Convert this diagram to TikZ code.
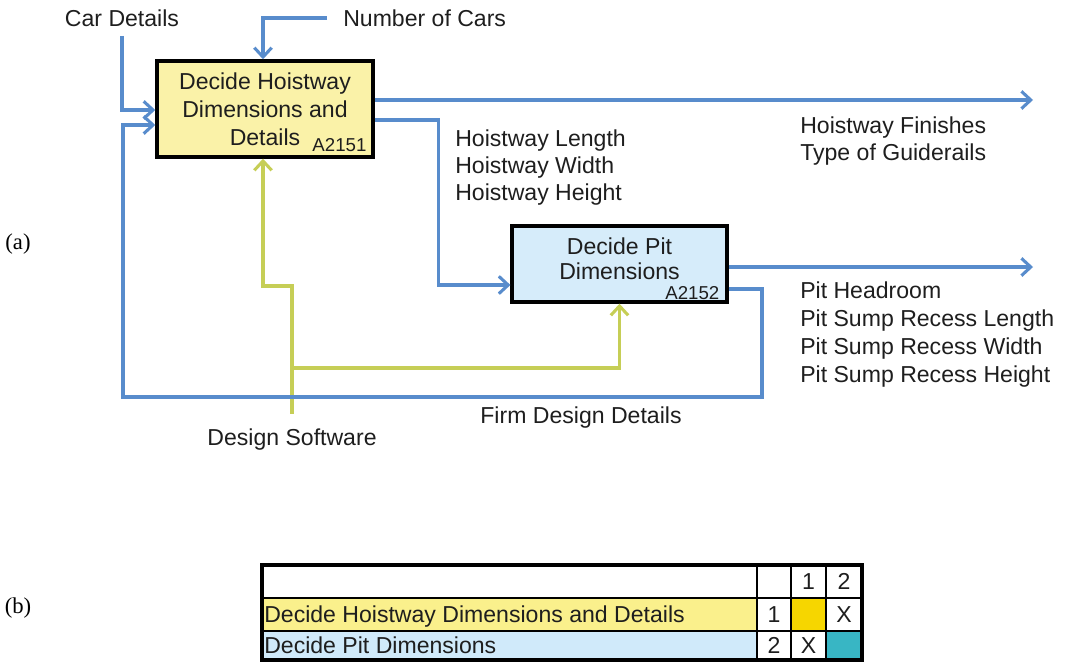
\documentclass[tikz,border=0pt]{standalone}
\usepackage{fontspec}
\setmainfont{Liberation Sans}
\newfontfamily\serifabc{Liberation Serif}
\usetikzlibrary{arrows.meta,calc}
\definecolor{flowblue}{RGB}{88,140,204}
\definecolor{mechgreen}{RGB}{198,206,86}
\definecolor{boxyellow}{RGB}{250,242,168}
\definecolor{boxblue}{RGB}{214,236,250}
\definecolor{rowyellow}{RGB}{250,240,140}
\definecolor{rowblue}{RGB}{208,234,250}
\definecolor{cellgold}{RGB}{246,214,0}
\definecolor{cellteal}{RGB}{56,182,196}
\definecolor{inkgray}{RGB}{30,30,30}
\begin{document}
\begin{tikzpicture}[x=0.75pt,y=-0.75pt,
  txt/.style={font=\fontsize{17.3}{20}\selectfont, text=inkgray, inner sep=0pt, text height=12.4pt, text depth=0pt},
  small/.style={font=\fontsize{14}{14}\selectfont, text=inkgray, inner sep=0pt},
  actbox/.style={draw=black, line width=2.6pt, minimum width=162pt, minimum height=72pt,
    align=center, font=\fontsize{17.3}{20}\selectfont, text=inkgray, inner sep=0pt},
  boxtext/.style={align=center, font=\fontsize{17.3}{18.8}\selectfont, text=inkgray, inner sep=0pt},
  flow/.style={draw=flowblue, line width=2.3pt, -{Straight Barb[length=7pt,width=13pt]}},
  mech/.style={draw=mechgreen, line width=2.3pt, -{Straight Barb[length=7pt,width=13pt]}},
  tabtxt/.style={font=\fontsize{17.3}{20}\selectfont, text=inkgray, inner sep=0pt, text height=12.4pt, text depth=0pt},
  abc/.style={font=\serifabc\fontsize{17}{17}\selectfont, inner sep=0pt}
]
\useasboundingbox (0,0) rectangle (1069,663);

% ---------- part (a) ----------
\node[abc] (la) at (18,244) {(a)};

\node[actbox, fill=boxyellow] (b1) at (265,109) {Decide Hoistway\\[1pt]Dimensions and\\[1pt]Details};
\node[small, anchor=south east] (a1) at ($(b1.south east)+(-8,-7)$) {A2151};

\node[actbox, fill=boxblue, minimum width=161pt, minimum height=57pt] (b2) at (619.5,264) {};
\node[boxtext] (t2) at (619.5,259) {Decide Pit\\Dimensions};
\node[small, anchor=south east] (a2) at ($(b2.south east)+(-9,-4)$) {A2152};

\node[txt] (cd) at (122,18) {Car Details};
\node[txt, anchor=west] (nc) at (343,18) {Number of Cars};

\node[txt, anchor=west] (hl) at (455,138) {Hoistway Length};
\node[txt, anchor=west] (hw) at (455,165) {Hoistway Width};
\node[txt, anchor=west] (hh) at (455,192) {Hoistway Height};

\node[txt, anchor=west] (hf) at (800,125) {Hoistway Finishes};
\node[txt, anchor=west] (tg) at (800,152) {Type of Guiderails};

\node[txt, anchor=west] (ph) at (800,290) {Pit Headroom};
\node[txt, anchor=west] (pl) at (800,318) {Pit Sump Recess Length};
\node[txt, anchor=west] (pw) at (800,346) {Pit Sump Recess Width};
\node[txt, anchor=west] (pg) at (800,374) {Pit Sump Recess Height};

\node[txt] (fd) at (581,415) {Firm Design Details};
\node[txt] (ds) at (292,437) {Design Software};

\coordinate (o1) at (1033,100);
\coordinate (o2) at (1033,267);
\coordinate (g1) at (292,286);
\coordinate (gsplit) at (292,368);
\coordinate (fbR) at (762,397);
\coordinate (fbL) at (123,397);

% mechanisms (green)
\draw[mech, shorten <=11pt] (ds.north) -- (g1) -| ($(b1.south)+(-2,0)$);
\draw[mech] (gsplit) -| (b2.south);

% inputs
\draw[flow, shorten <=7pt] (cd.south) |- ($(b1.west)+(0,1)$);
\draw[flow, shorten <=12pt] (nc.west) -| ($(b1.north)+(-2,0)$);

% outputs
\draw[flow] (b1.east |- o1) -- (o1);
\draw[flow] ($(b1.east)+(0,11)$) -- ++(64,0) |- ($(b2.west)+(0,21)$);
\draw[flow] (b2.east |- o2) -- (o2);

% feedback
\draw[flow] ($(b2.east)+(0,25)$) -| (fbR) -- (fbL) |- ($(b1.west)+(0,16)$);

% ---------- part (b) ----------
\node[abc] (lb) at (18,608) {(b)};

\fill[rowyellow] (262,598) rectangle (757,631);
\fill[rowblue] (262,631) rectangle (757,660);
\fill[cellgold] (791,598) rectangle (826,631);
\fill[cellteal] (826,631) rectangle (862,660);
\draw[line width=1.7pt] (262,598) -- (862,598) (262,631) -- (862,631)
  (757,565) -- (757,660) (791,565) -- (791,660) (826,565) -- (826,660);
\draw[line width=2.6pt] (262,565) rectangle (862,660);

\node[tabtxt] (h1) at (808.5,581.5) {1};
\node[tabtxt] (h2) at (844,581.5) {2};
\node[tabtxt, anchor=west] (r1) at (264,614.5) {Decide Hoistway Dimensions and Details};
\node[tabtxt] (r1n) at (774,614.5) {1};
\node[tabtxt] (r1x) at (844,614.5) {X};
\node[tabtxt, anchor=west] (r2) at (264,645.5) {Decide Pit Dimensions};
\node[tabtxt] (r2n) at (774,645.5) {2};
\node[tabtxt] (r2x) at (808.5,645.5) {X};
\end{tikzpicture}
\end{document}
